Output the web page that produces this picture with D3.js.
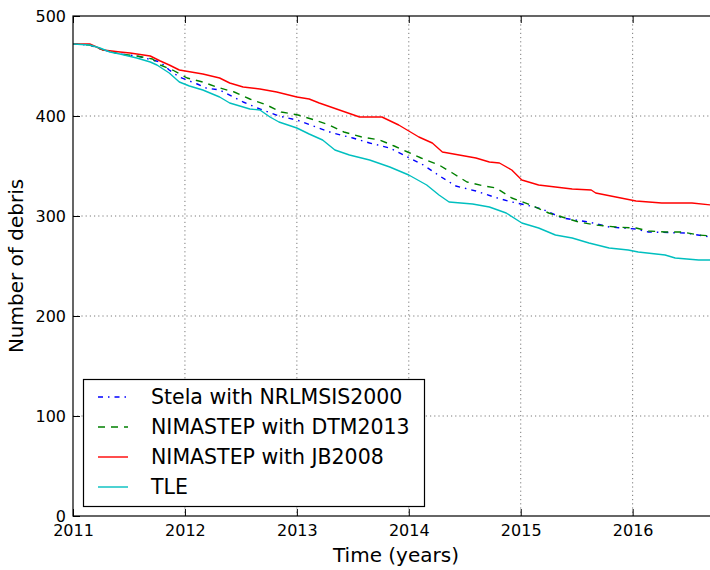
<!DOCTYPE html>
<html>
<head>
<meta charset="utf-8">
<script src="https://cdn.jsdelivr.net/npm/d3@7"></script>
<style>
  html, body { margin: 0; padding: 0; background: #fff; }
  svg { display: block; font-family: "DejaVu Sans", sans-serif; }
</style>
</head>
<body>
<svg id="chart" width="710" height="570"></svg>
<script>
// ---- Data ----
const xTicks = [2011, 2012, 2013, 2014, 2015, 2016];
const yTicks = [0, 100, 200, 300, 400, 500];

const stelaYears = [2011.00, 2011.15, 2011.27, 2011.42, 2011.57, 2011.71, 2011.78, 2011.86, 2011.95, 2012.11, 2012.19, 2012.31, 2012.52, 2012.67, 2012.84, 2013.00, 2013.17, 2013.32, 2013.50, 2013.65, 2013.83, 2013.99, 2014.13, 2014.29, 2014.42, 2014.60, 2014.76, 2014.92, 2015.05, 2015.19, 2015.37, 2015.61, 2015.79, 2016.03, 2016.14, 2016.47, 2016.70];
const stelaDebris = [472, 471, 466, 462, 460, 456, 454, 446, 439, 432, 428, 426, 414, 407, 400, 396, 389, 383, 378, 373, 368, 359, 351, 339, 330, 325, 319, 314, 311, 307, 298, 294, 289, 287, 284, 283, 279];

const dtmYears = [2011.00, 2011.15, 2011.27, 2011.42, 2011.57, 2011.71, 2011.78, 2011.89, 2012.02, 2012.16, 2012.28, 2012.44, 2012.58, 2012.73, 2012.86, 2013.01, 2013.16, 2013.29, 2013.42, 2013.58, 2013.74, 2013.87, 2013.99, 2014.11, 2014.27, 2014.39, 2014.52, 2014.67, 2014.78, 2014.92, 2015.09, 2015.25, 2015.37, 2015.52, 2015.67, 2015.85, 2016.03, 2016.14, 2016.29, 2016.44, 2016.59, 2016.70];
const dtmDebris = [472, 471, 466, 462, 460, 457, 451, 446, 438, 434, 429, 424, 417, 411, 404, 401, 396, 391, 384, 379, 376, 370, 364, 358, 351, 343, 334, 330, 328, 318, 311, 303, 299, 294, 291, 289, 288, 285, 284, 284, 281, 280];

const jbYears = [2011.00, 2011.15, 2011.27, 2011.42, 2011.51, 2011.69, 2011.78, 2011.86, 2011.95, 2012.16, 2012.31, 2012.40, 2012.52, 2012.67, 2012.82, 2013.00, 2013.11, 2013.20, 2013.38, 2013.56, 2013.76, 2013.91, 2014.00, 2014.09, 2014.21, 2014.30, 2014.45, 2014.60, 2014.72, 2014.81, 2014.92, 2015.01, 2015.16, 2015.31, 2015.46, 2015.63, 2015.67, 2015.85, 2016.03, 2016.26, 2016.53, 2016.70];
const jbDebris = [472, 472, 466, 464, 463, 460, 455, 451, 446, 442, 438, 433, 429, 427, 424, 419, 417, 413, 406, 399, 399, 391, 385, 379, 373, 364, 361, 358, 354, 353, 346, 336, 331, 329, 327, 326, 323, 319, 315, 313, 313, 311];

const tleYears = [2011.00, 2011.15, 2011.24, 2011.33, 2011.42, 2011.57, 2011.69, 2011.75, 2011.86, 2011.95, 2012.04, 2012.16, 2012.31, 2012.40, 2012.58, 2012.67, 2012.76, 2012.84, 2013.00, 2013.11, 2013.23, 2013.34, 2013.47, 2013.65, 2013.83, 2014.00, 2014.16, 2014.27, 2014.36, 2014.57, 2014.72, 2014.87, 2015.01, 2015.16, 2015.31, 2015.46, 2015.61, 2015.79, 2015.96, 2016.05, 2016.29, 2016.38, 2016.59, 2016.70];
const tleDebris = [472, 471, 468, 464, 462, 458, 454, 451, 443, 434, 430, 426, 419, 413, 407, 406, 399, 394, 388, 382, 376, 366, 361, 356, 349, 341, 331, 321, 314, 312, 309, 303, 293, 288, 281, 278, 273, 268, 266, 264, 261, 258, 256, 256];

const seriesNames = ["Stela with NRLMSIS2000", "NIMASTEP with DTM2013", "NIMASTEP with JB2008", "TLE"];

// ---- Layout / styles ----
const seriesStyles = [
  { color: "#0000ff", dash: "5,5,1.5,5" },
  { color: "#008000", dash: "7,6" },
  { color: "#ff0000", dash: null },
  { color: "#00bfbf", dash: null }
];
const seriesData = [
  [stelaYears, stelaDebris],
  [dtmYears, dtmDebris],
  [jbYears, jbDebris],
  [tleYears, tleDebris]
];

const plot = { left: 73, top: 16, right: 711, bottom: 516 };
const svg = d3.select("#chart");

const x = d3.scaleLinear().domain([2011, 2016.7]).range([plot.left, plot.right]);
const y = d3.scaleLinear().domain([0, 500]).range([plot.bottom, plot.top]);

// clip
svg.append("defs").append("clipPath").attr("id", "clip")
  .append("rect").attr("x", plot.left).attr("y", plot.top)
  .attr("width", plot.right - plot.left).attr("height", plot.bottom - plot.top);

// grid
const grid = svg.append("g");
grid.selectAll("line.gx").data(xTicks.slice(1)).enter().append("line")
  .attr("x1", d => x(d)).attr("x2", d => x(d))
  .attr("y1", plot.top).attr("y2", plot.bottom)
  .attr("stroke", "#7a7a7a").attr("stroke-width", 1).attr("stroke-dasharray", "1.2,3");
grid.selectAll("line.gy").data(yTicks.slice(1, -1)).enter().append("line")
  .attr("x1", plot.left).attr("x2", plot.right)
  .attr("y1", d => y(d)).attr("y2", d => y(d))
  .attr("stroke", "#7a7a7a").attr("stroke-width", 1).attr("stroke-dasharray", "1.2,3");

// lines
const line = d3.line().x(d => x(d[0])).y(d => y(d[1]));
const linesG = svg.append("g").attr("clip-path", "url(#clip)");
seriesData.forEach((sd, i) => {
  const pts = sd[0].map((t, j) => [t, sd[1][j]]);
  const p = linesG.append("path").datum(pts)
    .attr("d", line).attr("fill", "none")
    .attr("stroke", seriesStyles[i].color).attr("stroke-width", 1.4)
    .attr("stroke-linejoin", "round");
  if (seriesStyles[i].dash) p.attr("stroke-dasharray", seriesStyles[i].dash);
});

// axes (inward ticks, matplotlib classic)
const xAxis = d3.axisBottom(x).tickValues(xTicks).tickFormat(d3.format("d")).tickSizeInner(-7).tickSizeOuter(0).tickPadding(9);
const yAxis = d3.axisLeft(y).tickValues(yTicks).tickFormat(d3.format("d")).tickSizeInner(-7).tickSizeOuter(0).tickPadding(7);
const gx = svg.append("g").attr("transform", `translate(0,${plot.bottom})`).call(xAxis);
const gy = svg.append("g").attr("transform", `translate(${plot.left},0)`).call(yAxis);
[gx, gy].forEach(g => {
  g.select(".domain").remove();
  g.selectAll(".tick line").attr("stroke", "#000").attr("stroke-width", 1);
  g.selectAll(".tick text").attr("font-size", 16).attr("fill", "#000").attr("font-family", "DejaVu Sans");
});
// top ticks
const xTop = d3.axisTop(x).tickValues(xTicks).tickFormat("").tickSizeInner(-7).tickSizeOuter(0);
const gxt = svg.append("g").attr("transform", `translate(0,${plot.top})`).call(xTop);
gxt.select(".domain").remove();
gxt.selectAll(".tick line").attr("stroke", "#000");

// frame
svg.append("rect").attr("x", plot.left).attr("y", plot.top)
  .attr("width", plot.right - plot.left).attr("height", plot.bottom - plot.top)
  .attr("fill", "none").attr("stroke", "#000").attr("stroke-width", 1.2);

// axis labels
svg.append("text").attr("x", 396).attr("y", 562).attr("text-anchor", "middle")
  .attr("font-size", 20).attr("fill", "#000").text("Time (years)");
svg.append("text").attr("transform", "translate(23,266) rotate(-90)").attr("text-anchor", "middle")
  .attr("font-size", 20).attr("fill", "#000").text("Number of debris");

// legend
const lg = svg.append("g");
lg.append("rect").attr("x", 83.5).attr("y", 379.5).attr("width", 341).attr("height", 127)
  .attr("fill", "#fff").attr("stroke", "#000").attr("stroke-width", 1.2);
seriesNames.forEach((name, i) => {
  const cy = 397 + i * 30;
  const l = lg.append("line").attr("x1", 98).attr("x2", 128).attr("y1", cy).attr("y2", cy)
    .attr("stroke", seriesStyles[i].color).attr("stroke-width", 1.4);
  if (seriesStyles[i].dash) l.attr("stroke-dasharray", seriesStyles[i].dash);
  lg.append("text").attr("x", 151).attr("y", cy + 7).attr("font-size", 20.5).attr("fill", "#000").text(name);
});
</script>
</body>
</html>
